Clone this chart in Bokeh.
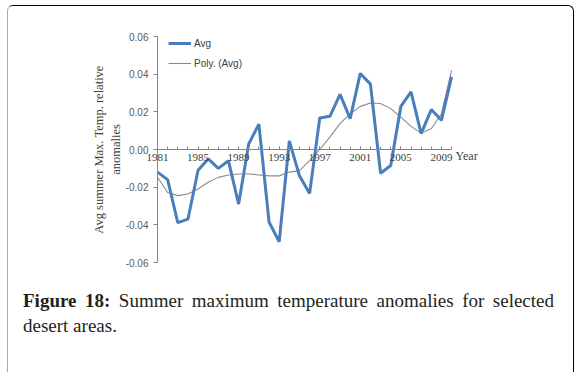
from bokeh.plotting import figure
from bokeh.models import FixedTicker, Label, Div, Range1d
from bokeh.layouts import column
from bokeh.embed import file_html
from bokeh.resources import INLINE

years = list(range(1981, 2011))
avg = [-0.012, -0.016, -0.0388, -0.037, -0.011, -0.005, -0.010, -0.006, -0.029, 0.003,
       0.0135, -0.0385, -0.049, 0.0045, -0.014, -0.0233, 0.0167, 0.0176, 0.0293, 0.0164,
       0.0404, 0.0347, -0.0126, -0.0085, 0.0229, 0.0306, 0.0084, 0.0212, 0.0155, 0.0386]
poly = [-0.0147, -0.0228, -0.0245, -0.0236, -0.021, -0.0174, -0.0148, -0.0135, -0.013, -0.013,
        -0.0135, -0.014, -0.014, -0.012, -0.0112, -0.0059, 0.0, 0.0066, 0.0137, 0.019,
        0.0229, 0.0247, 0.0244, 0.0217, 0.0172, 0.0123, 0.0087, 0.011, 0.019, 0.042]
x_tick_years = [1981, 1985, 1989, 1993, 1997, 2001, 2005, 2009]
y_ticks = [-0.06, -0.04, -0.02, 0.0, 0.02, 0.04, 0.06]
y_tick_labels = ["-0.06", "-0.04", "-0.02", "0.00", "0.02", "0.04", "0.06"]
series_names = ["Avg", "Poly. (Avg)"]
y_title = "Avg summer Max. Temp. relative\nanomalies"
x_title = "Year"
caption_bold = "Figure 18:"
caption_line1 = "Summer maximum temperature anomalies for selected"
caption_line2 = "desert areas."

# layout geometry (pixels)
px_per_year = 10.14
left_pad = 74          # frame pixels left of the first year (room for y labels)
frame_w = 409
x_start = years[0] - left_pad / px_per_year
x_end = x_start + frame_w / px_per_year

axis_px = 226          # pixels between the lowest and highest y tick
pad_px = 8             # extra frame pixels above and below so end labels are not clipped
frame_h = axis_px + 2 * pad_px
y_span = y_ticks[-1] - y_ticks[0]
y_pad = pad_px * y_span / axis_px

p = figure(frame_width=frame_w, frame_height=frame_h,
           min_border_left=75, min_border_right=71, min_border_top=22, min_border_bottom=12,
           x_range=Range1d(x_start, x_end),
           y_range=Range1d(y_ticks[0] - y_pad, y_ticks[-1] + y_pad),
           output_backend="svg", toolbar_location=None)
p.outline_line_color = None
p.xgrid.visible = False
p.ygrid.visible = False

p.line(years, poly, line_color="#8a8a8a", line_width=1.1, legend_label=series_names[1])
p.line(years, avg, line_color="#4a7ebb", line_width=3, legend_label=series_names[0])

# x axis at zero
xa = p.xaxis[0]
xa.fixed_location = 0
xa.bounds = (years[0], years[-1])
xa.ticker = FixedTicker(ticks=x_tick_years, minor_ticks=years)
xa.axis_line_color = "#868686"
xa.major_tick_line_color = "#868686"
xa.minor_tick_line_color = "#868686"
xa.major_tick_in = 3
xa.major_tick_out = 0
xa.minor_tick_in = 3
xa.minor_tick_out = 0
xa.major_label_standoff = 4
xa.major_label_text_font = "Liberation Serif"
xa.major_label_text_font_size = "11px"
xa.major_label_text_color = "#404040"

# y axis at the first year
ya = p.yaxis[0]
ya.fixed_location = years[0]
ya.bounds = (y_ticks[0], y_ticks[-1])
ya.ticker = FixedTicker(ticks=y_ticks, minor_ticks=[])
ya.major_label_overrides = {t: l for t, l in zip(y_ticks, y_tick_labels)}
ya.axis_line_color = "#868686"
ya.major_tick_line_color = "#868686"
ya.major_tick_in = 0
ya.major_tick_out = 4
ya.minor_tick_line_color = None
ya.major_label_standoff = 5
ya.major_label_text_font = "Liberation Sans"
ya.major_label_text_font_size = "10px"
ya.major_label_text_color = "#595959"
ya.axis_label = y_title
ya.axis_label_text_font = "Liberation Serif"
ya.axis_label_text_font_size = "12.5px"
ya.axis_label_text_font_style = "normal"
ya.axis_label_text_color = "#404040"
ya.axis_label_standoff = 0

p.add_layout(Label(x=years[-1], y=0, x_offset=4, y_offset=1, text=x_title,
                   text_font="Liberation Serif", text_font_size="12px",
                   text_color="#404040", text_baseline="top"))

lg = p.legend[0]
lg.location = (85, 197)
lg.items = [lg.items[1], lg.items[0]]
lg.border_line_color = None
lg.background_fill_alpha = 0
lg.padding = 0
lg.margin = 0
lg.spacing = 0
lg.glyph_width = 23
lg.glyph_height = 20
lg.label_height = 20
lg.label_standoff = 3
lg.label_text_font = "Liberation Sans"
lg.label_text_font_size = "10px"
lg.label_text_color = "#404040"

cap_html = (f"<div style='display:block;width:531px;text-align:justify;text-align-last:justify'>"
            f"<span style='font-weight:bold'>{caption_bold}</span><span> {caption_line1}</span></div>"
            f"<div style='display:block;width:531px'><span>{caption_line2}</span></div>")
cap = Div(text=cap_html, width=555, height=83,
          styles={"font-family": "Liberation Serif", "font-size": "19px",
                  "line-height": "25px", "color": "#231f20",
                  "padding-left": "10px", "padding-right": "14px", "padding-top": "1px",
                  "box-sizing": "border-box"})

layout = column(p, cap, spacing=0,
                styles={"border-top": "1px solid #000", "border-right": "1px solid #000",
                        "border-left": "1px solid #aaa", "border-bottom": "2px solid #aaa",
                        "border-radius": "6px", "margin-left": "7px", "margin-top": "5px",
                        "background": "white"})

open("out.html", "w").write(file_html(layout, INLINE))
